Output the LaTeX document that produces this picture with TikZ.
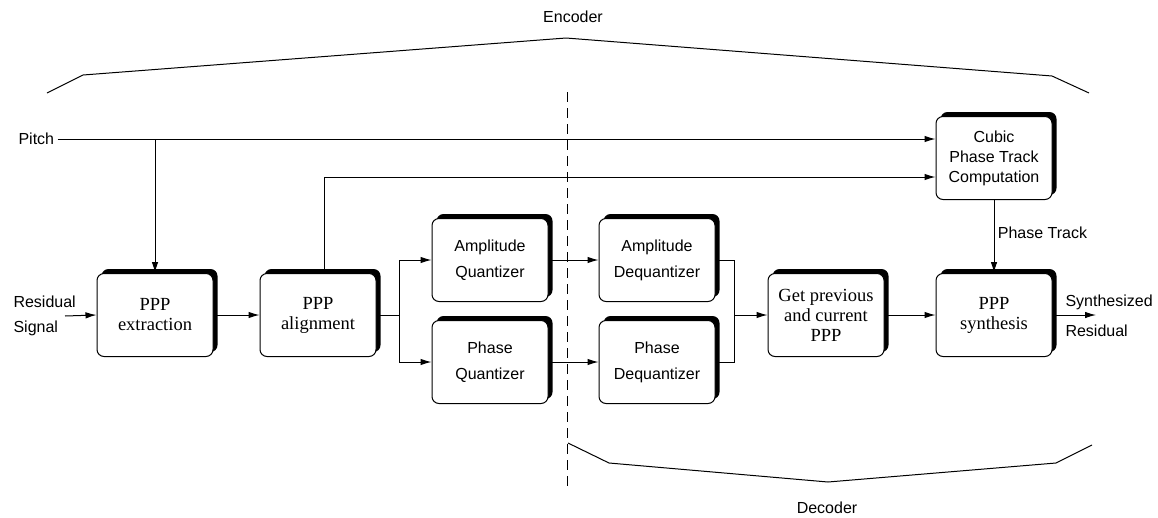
\documentclass[tikz,border=0pt]{standalone}
\usepackage{fontspec}
\setmainfont{Liberation Serif}
\setsansfont{Liberation Sans}
\usetikzlibrary{arrows.meta,shadows}

\tikzset{
  blk/.style={draw, line width=1pt, rounded corners=7pt, fill=white,
    minimum width=116pt, minimum height=83pt, align=center, inner sep=2pt,
    drop shadow={shadow xshift=4.5pt, shadow yshift=4.5pt, fill=black, opacity=1}},
  serif/.style={font=\rmfamily\fontsize{18.5}{20}\selectfont},
  lbl/.style={font=\sffamily\fontsize{16}{20}\selectfont},
  qlbl/.style={font=\sffamily\fontsize{16}{26}\selectfont},
  arr/.style={-{Latex[length=11pt,width=6.5pt]}, line width=1pt},
  wire/.style={line width=1pt}
}

\begin{document}
\begin{tikzpicture}[x=1pt, y=-1pt]
\useasboundingbox (0,0) rectangle (1158,517);

\node[blk, serif] (extract) at (155,315) {PPP\\extraction};
\node[blk, serif] (align) at (318,315) {PPP\\alignment};
\node[blk, qlbl] (aq) at (490,260) {Amplitude\\Quantizer};
\node[blk, qlbl] (pq) at (490,362) {Phase\\Quantizer};
\node[blk, qlbl] (ad) at (657,260) {Amplitude\\Dequantizer};
\node[blk, qlbl] (pd) at (657,362) {Phase\\Dequantizer};
\node[blk, serif] (get) at (826,315) {Get previous\\and current\\PPP};
\node[blk, serif] (synth) at (994,315) {PPP\\synthesis};
\node[blk, lbl] (cubic) at (994,158) {Cubic\\Phase Track\\Computation};

\node[lbl, anchor=west] (pitch) at (15,139) {Pitch};
\node[lbl, anchor=west, align=left, font=\sffamily\fontsize{16}{25}\selectfont] (resid) at (10,316) {Residual\\Signal};
\node[lbl, anchor=west, align=left, font=\sffamily\fontsize{16}{30}\selectfont] (synres) at (1062,316) {Synthesized\\Residual};
\node[lbl] (enc) at (573,17) {Encoder};
\node[lbl] (dec) at (827,508) {Decoder};

\coordinate (resin) at (65,316);
\coordinate (split) at (399,315);
\coordinate (merge) at (734,315);
\coordinate (synout) at (1096,315);

\draw[arr] (pitch.east) -- (pitch.east -| cubic.west);
\draw[arr] (extract.north |- pitch.east) -- (extract.north);
\draw[arr] (resin) -- (extract.west);
\draw[arr] (extract) -- (align);
\draw[arr] ([xshift=6pt]align.north) |- ([yshift=-19pt]cubic.west);
\draw[wire] (align.east) -- (split);
\draw[arr] (split) |- (aq.west);
\draw[arr] (split) |- (pq.west);
\draw[arr] (aq) -- (ad);
\draw[arr] (pq) -- (pd);
\draw[wire] (ad.east) -| (merge);
\draw[wire] (pd.east) -| (merge);
\draw[arr] (merge) -- (get.west);
\draw[arr] (get) -- (synth);
\draw[arr] (cubic) -- node[lbl, right, pos=0.45] {Phase Track} (synth);
\draw[arr] (synth.east) -- (synout);

\draw[wire, dash pattern=on 10pt off 6pt] (567,92) -- (567,492);
\draw[wire] (47,93) -- (83,75) -- (566,38) -- (1052,76) -- (1089,93);
\draw[wire] (568,443) -- (609,463) -- (828,482) -- (1056,463) -- (1092,445);
\end{tikzpicture}
\end{document}
